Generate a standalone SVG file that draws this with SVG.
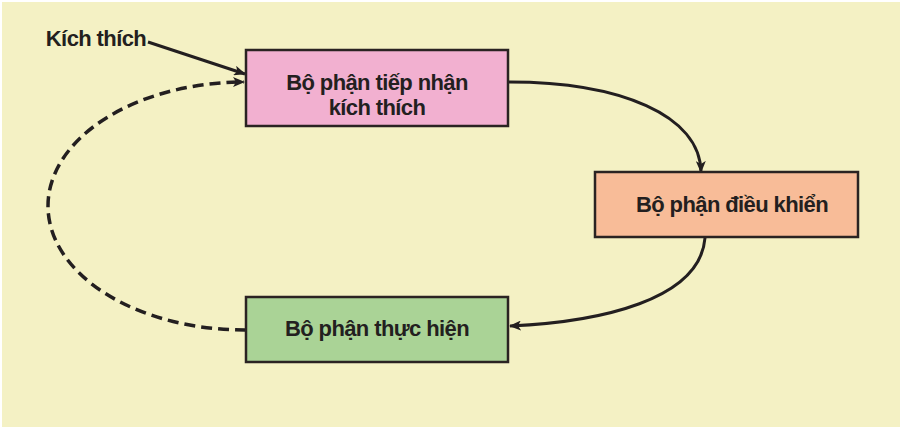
<svg xmlns="http://www.w3.org/2000/svg" width="906" height="432" viewBox="0 0 906 432">
<style>
.box{stroke:#2a2322;stroke-width:2.5}
.lbl{font-family:"Liberation Sans",Arial,sans-serif;font-weight:bold;font-size:22px;fill:#231f20;letter-spacing:-0.6px;text-anchor:middle}
.con{fill:none;stroke:#231f20;stroke-width:3}
.dash{stroke-dasharray:11 6;stroke-width:3.5}
</style>
<defs>
<marker id="ah" viewBox="0 0 12 10" refX="11" refY="5" markerWidth="12" markerHeight="10" markerUnits="userSpaceOnUse" orient="auto">
<path d="M0,0 L12,5 L0,10 L3,5 Z" fill="#231f20"/>
</marker>
</defs>
<rect x="0" y="0" width="906" height="432" fill="#ffffff"/>
<rect x="2" y="2" width="898" height="425" fill="#f4f1c4"/>
<g id="connectors">
<path class="con" d="M148,42 L245,74" marker-end="url(#ah)"/>
<path class="con" d="M509,82 C620,82 700,115 701,172" marker-end="url(#ah)"/>
<path class="con" d="M705,238 C700,300 600,322 510,326" marker-end="url(#ah)"/>
<path class="con dash" d="M246,330 A197,124 0 0 1 244,82" marker-end="url(#ah)"/>
</g>
<g id="kich-thich">
<text class="lbl" x="96" y="46">Kích thích</text>
</g>
<g id="tiep-nhan">
<rect class="box" x="246" y="50" width="262" height="76" fill="#f2b0d0"/>
<text class="lbl" x="377" y="90">Bộ phận tiếp nhận</text>
<text class="lbl" x="377" y="115">kích thích</text>
</g>
<g id="dieu-khien">
<rect class="box" x="595" y="172" width="263" height="65" fill="#f8bc98"/>
<text class="lbl" x="732" y="212">Bộ phận điều khiển</text>
</g>
<g id="thuc-hien">
<rect class="box" x="246" y="297" width="262" height="65" fill="#aad396"/>
<text class="lbl" x="377" y="336">Bộ phận thực hiện</text>
</g>
</svg>
